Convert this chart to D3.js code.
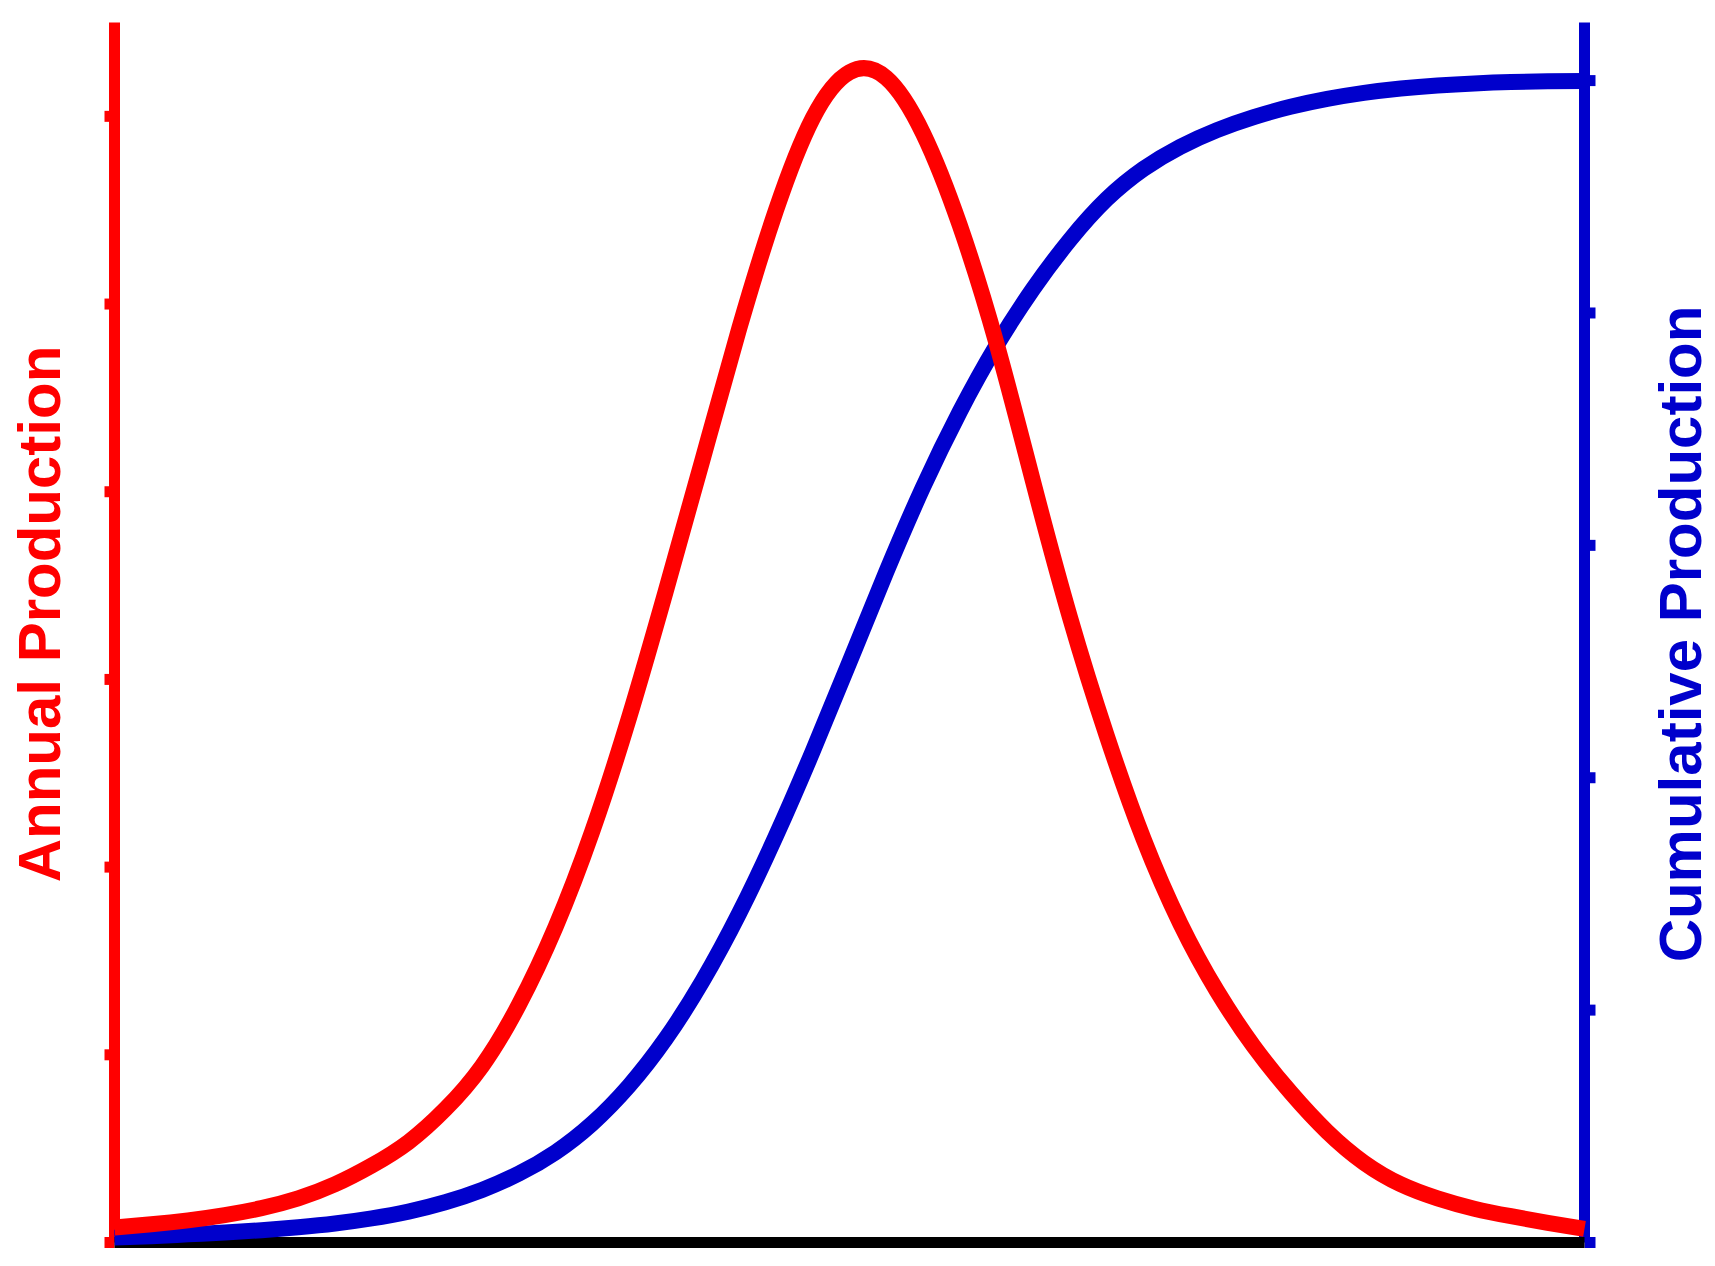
<!DOCTYPE html>
<meta charset="utf-8">
<head>
<style>
 body { margin: 0; background: #fff; }
 .label {
   font-family: "Liberation Sans", Arial, sans-serif;
   font-weight: bold;
   font-size: 60px;
 }
 .curve { fill: none; stroke-width: 16px; stroke-linecap: butt; }
 .axis path, .axis line { stroke-width: 11px; stroke-linecap: butt; }
</style>
</head>
<body>
<svg width="1715" height="1266"></svg>
<script src="https://d3js.org/d3.v7.min.js" charset="utf-8"></script>
<script>
  // values (x in years from start, 0..100)
  var annualYears = [0, 2.5, 5, 7.5, 10, 12.5, 15, 17.5, 20, 22.5, 25, 27.5, 30, 32.5, 35, 37.5, 40, 42.5, 45, 47.5, 50,
                     52.5, 55, 57.5, 60, 62.5, 65, 67.5, 70, 72.5, 75, 77.5, 80, 82.5, 85, 87.5, 90, 92.5, 95, 97.5, 100];
  var annualValues = [0.08, 0.097, 0.118, 0.146, 0.183, 0.235, 0.31, 0.41, 0.535, 0.71, 0.94, 1.265, 1.68, 2.19, 2.795, 3.47, 4.17, 4.87, 5.50, 5.99, 6.235,
                      6.205, 5.91, 5.42, 4.79, 4.05, 3.33, 2.70, 2.15, 1.70, 1.34, 1.045, 0.80, 0.59, 0.425, 0.31, 0.235, 0.18, 0.14, 0.105, 0.072];

  var cumulativeYears = [0, 2.5, 5, 7.5, 10, 12.5, 15, 17.5, 20, 22.5, 25, 27.5, 30, 32.5, 35, 37.5, 40, 42.5, 45, 47.5, 50,
                         52.5, 55, 57.5, 60, 62.5, 65, 67.5, 70, 72.5, 75, 77.5, 80, 82.5, 85, 87.5, 90, 92.5, 95, 97.5, 100];
  var cumulativeValues = [0.021, 0.027, 0.035, 0.043, 0.053, 0.066, 0.082, 0.104, 0.133, 0.173, 0.226, 0.296, 0.388, 0.512, 0.674, 0.877, 1.125, 1.417, 1.75, 2.114, 2.498,
                          2.885, 3.25, 3.575, 3.86, 4.105, 4.315, 4.49, 4.62, 4.715, 4.787, 4.843, 4.887, 4.921, 4.947, 4.966, 4.979, 4.988, 4.994, 4.997, 4.998];

  var annualTicks = [0, 1, 2, 3, 4, 5, 6];
  var cumulativeTicks = [0, 1, 2, 3, 4, 5];

  var red = '#ff0000', blue = '#0000cc';

  var svg = d3.select('svg');
  var plot = { left: 114.5, right: 1584.5, top: 22.5, bottom: 1242.5 };

  var x = d3.scaleLinear().domain([0, 100]).range([plot.left, plot.right]);
  var yA = d3.scaleLinear().domain([0, 6.5]).range([plot.bottom, plot.top]);
  var yC = d3.scaleLinear().domain([0, 5.25]).range([plot.bottom, plot.top]);

  // axes: red left, blue right, black bottom
  var gl = svg.append('g').attr('class', 'axis')
      .attr('transform', 'translate(' + plot.left + ',0)')
      .call(d3.axisLeft(yA).tickValues(annualTicks).tickSize(10).tickSizeOuter(0).tickFormat('').offset(0));
  gl.selectAll('path, line').attr('stroke', red);

  var gr = svg.append('g').attr('class', 'axis')
      .attr('transform', 'translate(' + plot.right + ',0)')
      .call(d3.axisRight(yC).tickValues(cumulativeTicks).tickSize(11).tickSizeOuter(0).tickFormat('').offset(0));
  gr.selectAll('path, line').attr('stroke', blue);

  var gb = svg.append('g').attr('class', 'axis')
      .attr('transform', 'translate(0,' + plot.bottom + ')')
      .call(d3.axisBottom(x).tickValues([]).tickSizeOuter(0).offset(0));
  gb.selectAll('path').attr('stroke', '#000');

  // curves
  var lineC = d3.line()
      .x(function(d, i) { return x(cumulativeYears[i]); })
      .y(function(d) { return yC(d); })
      .curve(d3.curveNatural);
  svg.append('path').attr('class', 'curve')
      .attr('stroke', blue)
      .attr('d', lineC(cumulativeValues));

  var lineA = d3.line()
      .x(function(d, i) { return x(annualYears[i]); })
      .y(function(d) { return yA(d); })
      .curve(d3.curveNatural);
  svg.append('path').attr('class', 'curve')
      .attr('stroke', red)
      .attr('d', lineA(annualValues));

  // axis titles
  svg.append('text').attr('class', 'label')
      .attr('fill', red)
      .attr('text-anchor', 'middle')
      .attr('transform', 'translate(60,614) rotate(-90)')
      .text('Annual Production');

  svg.append('text').attr('class', 'label')
      .attr('fill', blue)
      .attr('text-anchor', 'middle')
      .attr('transform', 'translate(1701,634) rotate(-90)')
      .text('Cumulative Production');
</script>
</body>
